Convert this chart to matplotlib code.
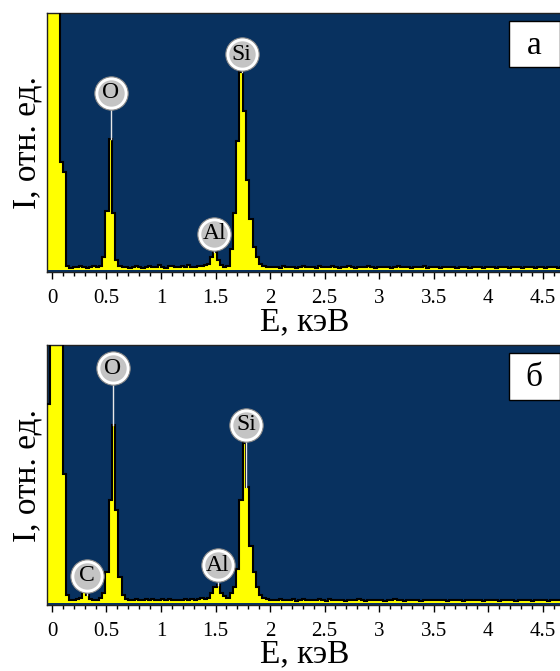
import numpy as np
import matplotlib.pyplot as plt
from matplotlib.patches import Rectangle

# EDS spectra, stepped channels of 0.03 keV starting at -0.05 keV
bin_start = -0.05
bin_width = 0.03

counts_a = [
    120, 120, 120, 120, 42, 38, 1.5, 0.8, 1.2, 1.0,
    1.4, 1.2, 0.8, 1.0, 1.5, 1.2, 1.6, 5, 23, 51,
    22, 4, 1.5, 1.0, 1.3, 0.9, 1.1, 1.4, 1.0, 0.8,
    1.2, 1.5, 1.0, 1.3, 1.8, 1.1, 0.9, 1.4, 1.6, 1.0,
    1.2, 1.5, 1.1, 1.8, 1.3, 1.0, 1.6, 1.4, 2.0, 2.5,
    5, 7, 4, 2, 1, 1.5, 8, 22, 50, 77,
    62, 35, 20, 9, 5, 2.5, 1.5, 1.2, 1.0, 1.3,
    1.1, 0.9, 1.4, 1.2, 1.0, 1.3, 0.8, 1.1, 1.5, 1.2,
    1.0, 1.2, 0.9, 1.4, 1.1, 1.0, 1.3, 1.5, 1.1, 0.9,
    1.2, 1.0, 1.4, 1.1, 0.8, 1.3, 1.2, 1.0, 1.5, 1.1,
    0.9, 1.2, 1.0, 1.3, 1.1, 0.8, 1.2, 1.4, 1.0, 1.1,
    1.3, 0.9, 1.0, 1.2, 1.1, 1.4, 0.8, 1.0, 1.2, 1.1,
    0.9, 1.3, 1.0, 1.1, 1.2, 0.8, 1.0, 1.3, 1.1, 0.9,
    1.2, 1.0, 1.1, 0.8, 1.3, 1.0, 1.2, 0.9, 1.1, 1.0,
    1.2, 0.9, 1.0, 1.3, 1.1, 0.8, 1.0, 1.2, 1.1, 0.9,
    1.0, 1.2, 0.9, 1.1, 1.0, 1.3, 0.8, 1.0,
]

counts_b = [
    77, 120, 120, 120, 120, 50, 3, 1.2, 1.0, 1.4,
    2, 4.5, 3, 1.5, 1.2, 1.0, 2, 4, 12, 40,
    69, 36, 10, 3, 1.4, 1.2, 1.0, 1.5, 1.3, 1.1,
    1.4, 1.2, 1.6, 1.0, 1.3, 1.5, 1.1, 1.7, 1.2, 1.0,
    1.3, 1.1, 1.4, 1.0, 1.6, 1.2, 1.4, 1.8, 1.5, 2,
    4, 6, 7, 4, 2.5, 2, 4, 6, 13, 40,
    62, 45, 22, 12, 6, 3, 2, 1.4, 1.2, 1.0,
    1.2, 1.4, 1.0, 1.3, 1.1, 1.5, 0.9, 1.2, 1.4, 1.0,
    1.1, 1.3, 1.0, 1.5, 1.2, 0.9, 1.4, 1.1, 1.0, 1.3,
    1.2, 0.9, 1.3, 1.1, 1.0, 1.4, 1.2, 0.9, 1.1, 1.3,
    1.0, 1.2, 1.1, 0.9, 1.3, 1.0, 1.4, 1.1, 1.2, 0.9,
    1.1, 1.0, 1.3, 1.2, 0.9, 1.1, 1.2, 1.0, 1.3, 1.0,
    1.2, 1.1, 0.9, 1.3, 1.0, 1.2, 1.1, 0.9, 1.0, 1.2,
    1.1, 1.3, 1.0, 0.9, 1.2, 1.1, 1.0, 1.3, 0.9, 1.1,
    1.0, 1.2, 1.1, 0.9, 1.3, 1.0, 1.1, 1.2, 0.9, 1.0,
    1.1, 1.0, 1.2, 0.9, 1.1, 1.0, 1.2, 1.0,
]

# peak labels: element, energy (keV), height of the label circle
elements_a = ['O', 'Si', 'Al']
energies_a = [0.54, 1.74, 1.49]
tags_a = [69, 84, 14]

elements_b = ['C', 'O', 'Si', 'Al']
energies_b = [0.32, 0.56, 1.78, 1.52]
tags_b = [10.5, 91, 69, 14.6]

panel_names = ['а', 'б']
xticks = [0, 0.5, 1, 1.5, 2, 2.5, 3, 3.5, 4, 4.5]
xtick_labels = ['0', '0.5', '1', '1.5', '2', '2.5', '3', '3.5', '4', '4.5']

bg = '#08315f'
yellow = '#ffff00'
serif = 'Liberation Serif'

fig = plt.figure(figsize=(5.6, 6.71), dpi=100)
ax_a = fig.add_axes([0.084, 0.5946, 0.92, 0.386])
ax_b = fig.add_axes([0.084, 0.0984, 0.92, 0.3874])

panels = [
    (ax_a, counts_a, elements_a, energies_a, tags_a, panel_names[0]),
    (ax_b, counts_b, elements_b, energies_b, tags_b, panel_names[1]),
]

for ax, counts, elems, energies, tags, name in panels:
    counts = np.asarray(counts, dtype=float)
    edges = bin_start + bin_width * np.arange(len(counts) + 1)
    ax.set_facecolor(bg)
    ax.stairs(counts, edges, fill=True, color=yellow, zorder=2)
    ax.stairs(counts, edges, color='black', lw=1.5, zorder=3)
    ax.set_xlim(-0.045, 4.68)
    ax.set_ylim(-0.8, 100)

    for el, e, t in zip(elems, energies, tags):
        k = int((e - bin_start) // bin_width)
        top = min(counts[k], 100)
        ax.plot([e, e], [top, t], color='#e8e8e8', lw=1.0, zorder=4)
        ax.plot(e, t, 'o', ms=24, mfc='white', mec='#8a8a8a', mew=0.8, zorder=5)
        ax.plot(e, t, 'o', ms=19, mfc='#c4c4c4', mec='none', zorder=6)
        ax.text(e, t, el, ha='center', va='center', fontsize=17,
                family=serif, color='black', zorder=7)

    # panel letter in a white box
    ax.add_patch(Rectangle((0.896, 0.79), 0.099, 0.178, transform=ax.transAxes,
                           fc='white', ec='black', lw=1, zorder=8))
    ax.text(0.9455, 0.875, name, transform=ax.transAxes, ha='center', va='center',
            fontsize=24, family=serif, zorder=9)

    ax.set_xticks(xticks)
    ax.set_xticklabels(xtick_labels, family=serif, fontsize=15)
    ax.set_xticks(np.arange(0, 4.7, 0.1), minor=True)
    ax.set_yticks([])
    ax.tick_params(axis='x', which='major', direction='out', length=5, width=1, pad=7)
    ax.tick_params(axis='x', which='minor', direction='out', length=3, width=1)
    for s in ax.spines.values():
        s.set_color('#222222')
        s.set_linewidth(1)
    ax.set_xlabel('E, кэВ', family=serif, fontsize=24, labelpad=-1)
    ax.set_ylabel('I, отн. ед.', family=serif, fontsize=24, labelpad=3)

fig.savefig('out.png', dpi=100)
